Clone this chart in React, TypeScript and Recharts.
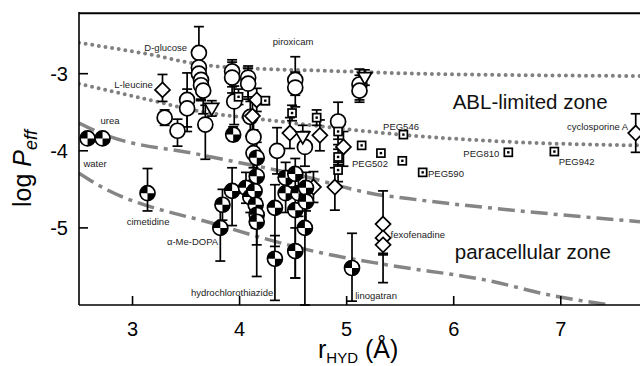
import React from "react";
import { ComposedChart, Line, Scatter, XAxis, YAxis, ErrorBar, ReferenceDot, ReferenceLine } from "recharts";

type Pt = { r: number; v: number; e?: [number, number] };

const X_TICKS = [3, 4, 5, 6, 7];
const Y_TICKS = [-5, -4, -3];
const Y_TOP = -2.2;
const FRAME_Y = -2.215;

// ABL / paracellular boundary curves
const ablUpper = [
  { r: 2.5, v: -2.6 }, { r: 3.16, v: -2.75 }, { r: 3.63, v: -2.88 }, { r: 4.26, v: -2.94 },
  { r: 4.75, v: -2.96 }, { r: 5.69, v: -3.0 }, { r: 7.74, v: -3.03 },
];
const ablLower = [
  { r: 2.5, v: -3.13 }, { r: 3.16, v: -3.34 }, { r: 3.63, v: -3.49 }, { r: 4.26, v: -3.6 },
  { r: 4.75, v: -3.68 }, { r: 5.5, v: -3.79 }, { r: 6.62, v: -3.89 }, { r: 7.74, v: -3.93 },
];
const paraUpper = [
  { r: 2.5, v: -3.64 }, { r: 2.7, v: -3.77 }, { r: 3.63, v: -4.05 }, { r: 4.57, v: -4.32 },
  { r: 5.22, v: -4.55 }, { r: 5.69, v: -4.64 }, { r: 6.62, v: -4.78 }, { r: 7.74, v: -4.92 },
];
const paraLower = [
  { r: 2.5, v: -4.29 }, { r: 2.65, v: -4.42 }, { r: 3.82, v: -4.97 }, { r: 4.75, v: -5.32 },
  { r: 5.38, v: -5.48 }, { r: 6.31, v: -5.68 }, { r: 6.93, v: -5.88 }, { r: 7.46, v: -6.0 },
];

const openCircles: Pt[] = [
  { r: 3.62, v: -2.73, e: [0.3, 0.34] },
  { r: 3.62, v: -2.92, e: [0.2, 0.2] },
  { r: 3.62, v: -3.0, e: [0.2, 0.2] },
  { r: 3.64, v: -3.08, e: [0.25, 0.2] },
  { r: 3.64, v: -3.15, e: [0.2, 0.2] },
  { r: 3.66, v: -3.22, e: [0.3, 0.15] },
  { r: 3.3, v: -3.57, e: [0.1, 0.1] },
  { r: 3.42, v: -3.74, e: [0.2, 0.15] },
  { r: 3.51, v: -3.34, e: [0.35, 0.35] },
  { r: 3.51, v: -3.45, e: [0.3, 0.25] },
  { r: 3.68, v: -3.66, e: [0.45, 0.25] },
  { r: 3.93, v: -2.97, e: [0.2, 0.15] },
  { r: 3.93, v: -3.05, e: [0.2, 0.2] },
  { r: 4.08, v: -3.05, e: [0.25, 0.15] },
  { r: 4.08, v: -3.13, e: [0.2, 0.2] },
  { r: 3.95, v: -3.36, e: [0.3, 0.2] },
  { r: 4.1, v: -3.56, e: [0.25, 0.2] },
  { r: 4.13, v: -3.82, e: [0.4, 0.3] },
  { r: 4.13, v: -4.03, e: [0.35, 0.3] },
  { r: 4.35, v: -4.0, e: [0.3, 0.3] },
  { r: 4.52, v: -3.08, e: [0.2, 0.3] },
  { r: 4.52, v: -3.18, e: [0.25, 0.2] },
  { r: 4.61, v: -3.95, e: [0.25, 0.2] },
  { r: 4.92, v: -3.62, e: [0.3, 0.25] },
  { r: 5.12, v: -3.14, e: [0.2, 0.2] },
  { r: 5.12, v: -3.22, e: [0.15, 0.2] },
];

const halfCircles: Pt[] = [
  { r: 2.58, v: -3.84, e: [0.05, 0.05] },
  { r: 2.72, v: -3.84, e: [0.06, 0.07] },
  { r: 3.14, v: -4.55, e: [0.23, 0.32] },
  { r: 3.94, v: -3.79, e: [0.08, 0.1] },
  { r: 3.82, v: -5.0, e: [0.43, 0.3] },
  { r: 3.84, v: -4.7, e: [0.2, 0.2] },
  { r: 3.93, v: -4.52, e: [0.45, 0.3] },
  { r: 4.06, v: -4.48, e: [0.2, 0.2] },
  { r: 4.1, v: -4.6, e: [0.2, 0.2] },
  { r: 4.14, v: -4.52, e: [0.3, 0.2] },
  { r: 4.15, v: -4.7, e: [0.3, 0.2] },
  { r: 4.16, v: -4.83, e: [0.8, 0.3] },
  { r: 4.16, v: -4.92, e: [0.3, 0.3] },
  { r: 4.16, v: -4.09, e: [0.25, 0.2] },
  { r: 4.16, v: -4.33, e: [0.3, 0.2] },
  { r: 4.33, v: -4.74, e: [0.5, 0.3] },
  { r: 4.33, v: -5.4, e: [0.54, 0.3] },
  { r: 4.43, v: -4.35, e: [0.2, 0.2] },
  { r: 4.52, v: -4.3, e: [0.2, 0.2] },
  { r: 4.43, v: -4.55, e: [0.25, 0.2] },
  { r: 4.55, v: -4.55, e: [0.3, 0.2] },
  { r: 4.52, v: -4.77, e: [0.88, 0.3] },
  { r: 4.62, v: -4.48, e: [0.3, 0.2] },
  { r: 4.62, v: -4.66, e: [0.3, 0.2] },
  { r: 4.52, v: -5.3, e: [0.35, 0.3] },
  { r: 4.61, v: -5.0, e: [1.0, 0.3] },
  { r: 5.05, v: -5.52, e: [0.43, 0.45] },
];

const diamonds: Pt[] = [
  { r: 3.28, v: -3.21, e: [0.15, 0.2] },
  { r: 4.16, v: -3.34, e: [0.15, 0.15] },
  { r: 4.12, v: -3.55, e: [0.2, 0.2] },
  { r: 4.47, v: -3.77, e: [0.2, 0.2] },
  { r: 4.75, v: -3.8, e: [0.2, 0.2] },
  { r: 4.97, v: -3.95, e: [0.25, 0.2] },
  { r: 4.69, v: -4.47, e: [0.2, 0.2] },
  { r: 4.89, v: -4.47, e: [0.3, 0.25] },
  { r: 7.7, v: -3.77, e: [0.25, 0.25] },
  { r: 5.34, v: -4.95, e: [0.4, 0.43] },
  { r: 5.34, v: -5.13, e: [0.2, 0.2] },
  { r: 5.34, v: -5.22, e: [0.49, 0.3] },
];

const squaresErr: Pt[] = [
  { r: 3.99, v: -3.3, e: [0.1, 0.1] },
  { r: 4.24, v: -3.35, e: [0.05, 0.05] },
  { r: 4.49, v: -3.51, e: [0.1, 0.1] },
  { r: 4.72, v: -3.57, e: [0.1, 0.1] },
  { r: 4.92, v: -3.75, e: [0.1, 0.1] },
  { r: 4.92, v: -4.08, e: [0.1, 0.1] },
  { r: 4.92, v: -4.25, e: [0.15, 0.1] },
];

const pegSquares: Pt[] = [
  { r: 5.14, v: -3.93 }, { r: 5.32, v: -4.03 }, { r: 5.53, v: -3.79 }, { r: 5.52, v: -4.13 },
  { r: 5.71, v: -4.28 }, { r: 6.51, v: -4.02 }, { r: 6.94, v: -4.01 },
];

const triangles: Pt[] = [
  { r: 3.74, v: -3.45, e: [0.1, 0.1] },
  { r: 5.17, v: -3.05, e: [0.1, 0.1] },
  { r: 4.59, v: -3.82, e: [0.15, 0.15] },
];

const drugLabels = [
  { t: "D-glucose", r: 3.51, v: -2.66, a: "end" },
  { t: "L-leucine", r: 3.19, v: -3.14, a: "end" },
  { t: "urea", r: 2.79, v: -3.61, a: "middle" },
  { t: "water", r: 2.65, v: -4.16, a: "middle" },
  { t: "cimetidine", r: 3.145, v: -4.92, a: "middle" },
  { t: "\u03b1-Me-DOPA", r: 3.8, v: -5.18, a: "end" },
  { t: "hydrochlorothiazide", r: 3.93, v: -5.84, a: "middle" },
  { t: "linogatran", r: 5.08, v: -5.88, a: "start" },
  { t: "fexofenadine", r: 5.41, v: -5.09, a: "start" },
  { t: "piroxicam", r: 4.5, v: -2.58, a: "middle" },
  { t: "PEG546", r: 5.34, v: -3.69, a: "start" },
  { t: "PEG502", r: 5.05, v: -4.16, a: "start" },
  { t: "PEG590", r: 5.76, v: -4.29, a: "start" },
  { t: "PEG810", r: 6.09, v: -4.03, a: "start" },
  { t: "PEG942", r: 6.98, v: -4.14, a: "start" },
  { t: "cyclosporine A", r: 7.63, v: -3.69, a: "end" },
];

const zoneLabels = [
  { t: "ABL-limited zone", r: 5.99, v: -3.36 },
  { t: "paracellular zone", r: 6.01, v: -5.31 },
];

const FONT = "'Liberation Sans', Arial, sans-serif";
const SW = 1.7;

const OpenCircle = (p: any) => (
  <circle cx={p.cx} cy={p.cy} r={7.5} fill="#fff" stroke="#000" strokeWidth={SW} />
);

const HalfCircle = (p: any) => {
  const { cx, cy } = p;
  const R = 7.5;
  return (
    <g>
      <circle cx={cx} cy={cy} r={R} fill="#fff" />
      <path d={`M${cx},${cy} L${cx - R},${cy} A${R},${R} 0 0 1 ${cx},${cy - R} Z`} fill="#000" />
      <path d={`M${cx},${cy} L${cx + R},${cy} A${R},${R} 0 0 1 ${cx},${cy + R} Z`} fill="#000" />
      <circle cx={cx} cy={cy} r={R} fill="none" stroke="#000" strokeWidth={SW} />
    </g>
  );
};

const Diamond = (p: any) => {
  const { cx, cy } = p;
  const h = 7.5;
  return (
    <path
      d={`M${cx},${cy - h} L${cx + h},${cy} L${cx},${cy + h} L${cx - h},${cy} Z`}
      fill="#fff"
      stroke="#000"
      strokeWidth={SW}
    />
  );
};

const BoxDot = (p: any) => {
  const { cx, cy } = p;
  return (
    <g>
      <rect x={cx - 4} y={cy - 4} width={8} height={8} fill="#fff" stroke="#000" strokeWidth={SW} />
      <rect x={cx - 1.2} y={cy - 1.2} width={2.4} height={2.4} fill="#000" />
    </g>
  );
};

const TriDown = (p: any) => {
  const { cx, cy } = p;
  return (
    <path
      d={`M${cx - 7},${cy - 5} L${cx + 7},${cy - 5} L${cx},${cy + 7} Z`}
      fill="#fff"
      stroke="#000"
      strokeWidth={SW}
    />
  );
};

const XTick = (p: any) => {
  const { x, y, payload } = p;
  return (
    <g>
      <line x1={x} x2={x} y1={y} y2={y - 9} stroke="#000" strokeWidth={1.6} />
      <text x={x} y={y + 31} textAnchor="middle" fontSize={20} fontFamily={FONT} fill="#000">
        {payload.value}
      </text>
    </g>
  );
};

const YTick = (p: any) => {
  const { x, y, payload } = p;
  return (
    <g>
      <line x1={x} x2={x + 9} y1={y} y2={y} stroke="#000" strokeWidth={1.6} />
      <text x={x - 11} y={y + 7} textAnchor="end" fontSize={20} fontFamily={FONT} fill="#000">
        {String(payload.value).replace("\u2212", "-")}
      </text>
    </g>
  );
};

const YTitle = (props: any) => {
  const vb = props.viewBox || { x: 0, y: 12, width: 79, height: 293 };
  const cy = vb.y + vb.height / 2 + 10;
  return (
    <text transform={`translate(31,${cy}) rotate(-90)`} textAnchor="middle" fontSize={25} fontFamily={FONT} fill="#000">
      log <tspan fontStyle="italic">P</tspan>
      <tspan fontStyle="italic" fontSize={18} dy={6}>eff</tspan>
    </text>
  );
};

const XTitle = (props: any) => {
  const vb = props.viewBox || { x: 79, y: 305, width: 561, height: 61 };
  return (
    <text x={vb.x + 239} y={vb.y + 53} fontSize={25} fontFamily={FONT} fill="#000">
      r<tspan fontSize={15} dy={5}>HYD</tspan>
      <tspan dy={-5}> (Å)</tspan>
    </text>
  );
};

const dotted = { stroke: "#808080", strokeWidth: 4, strokeDasharray: "0 6.7", strokeLinecap: "round" as const };
const dashDot = { stroke: "#858585", strokeWidth: 3.5, strokeDasharray: "17 6 4 6" };

export default function App() {
  return (
    <div style={{ position: "absolute", left: 0, top: 0, width: 640, height: 366, background: "#fff" }}>
      <ComposedChart width={640} height={366} margin={{ top: 12, right: 0, left: 0, bottom: 0 }}>
        <XAxis
          type="number"
          dataKey="r"
          domain={[2.5, 7.74]}
          ticks={X_TICKS}
          allowDataOverflow
          height={61}
          tickSize={0}
          tickMargin={0}
          tickLine={false}
          tick={<XTick />}
          axisLine={{ stroke: "#000", strokeWidth: 1.6 }}
          label={{ content: <XTitle /> }}
        />
        <YAxis
          type="number"
          dataKey="v"
          domain={[-6, Y_TOP]}
          ticks={Y_TICKS}
          allowDataOverflow
          width={79}
          tickSize={0}
          tickMargin={0}
          tickLine={false}
          tick={<YTick />}
          axisLine={{ stroke: "#000", strokeWidth: 1.6 }}
          label={{ content: <YTitle /> }}
        />

        <Line data={ablUpper} dataKey="v" type="monotone" dot={false} {...dotted} isAnimationActive={false} />
        <Line data={ablLower} dataKey="v" type="monotone" dot={false} {...dotted} isAnimationActive={false} />
        <Line data={paraUpper} dataKey="v" type="monotone" dot={false} {...dashDot} isAnimationActive={false} />
        <Line data={paraLower} dataKey="v" type="monotone" dot={false} {...dashDot} isAnimationActive={false} />

        <Scatter data={openCircles} shape={OpenCircle} isAnimationActive={false}>
          <ErrorBar dataKey="e" direction="y" width={5} stroke="#000" strokeWidth={1.7} />
        </Scatter>
        <Scatter data={diamonds} shape={Diamond} isAnimationActive={false}>
          <ErrorBar dataKey="e" direction="y" width={5} stroke="#000" strokeWidth={1.7} />
        </Scatter>
        <Scatter data={squaresErr} shape={BoxDot} isAnimationActive={false}>
          <ErrorBar dataKey="e" direction="y" width={5} stroke="#000" strokeWidth={1.7} />
        </Scatter>
        <Scatter data={pegSquares} shape={BoxDot} isAnimationActive={false} />
        <Scatter data={triangles} shape={TriDown} isAnimationActive={false}>
          <ErrorBar dataKey="e" direction="y" width={5} stroke="#000" strokeWidth={1.7} />
        </Scatter>
        <Scatter data={halfCircles} shape={HalfCircle} isAnimationActive={false}>
          <ErrorBar dataKey="e" direction="y" width={5} stroke="#000" strokeWidth={1.7} />
        </Scatter>

        {/* top frame of the plot area */}
        <ReferenceLine y={FRAME_Y} stroke="#000" strokeWidth={2} />

        {drugLabels.map((l) => (
          <ReferenceDot
            key={l.t}
            x={l.r}
            y={l.v}
            r={0}
            ifOverflow="visible"
            shape={(p: any) => (
              <text
                x={p.cx}
                y={p.cy}
                textAnchor={l.a as any}
                dominantBaseline="central"
                fontSize={9.5}
                fontFamily={FONT}
                fill="#222"
              >
                {l.t}
              </text>
            )}
          />
        ))}
        {zoneLabels.map((l) => (
          <ReferenceDot
            key={l.t}
            x={l.r}
            y={l.v}
            r={0}
            ifOverflow="visible"
            shape={(p: any) => (
              <text
                x={p.cx}
                y={p.cy}
                textAnchor="start"
                dominantBaseline="central"
                fontSize={20.5}
                fontFamily={FONT}
                fill="#111"
              >
                {l.t}
              </text>
            )}
          />
        ))}
      </ComposedChart>
    </div>
  );
}
